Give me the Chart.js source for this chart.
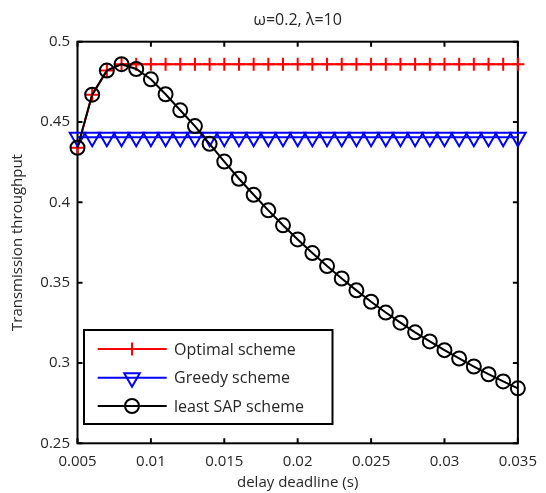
<!DOCTYPE html>
<html>
<head>
<meta charset="utf-8">
<script src="https://cdn.jsdelivr.net/npm/chart.js@4.4.0/dist/chart.umd.min.js"></script>
<style>
html,body{margin:0;padding:0;background:#fff;}
#wrap{width:546px;height:493px;position:relative;}
</style>
</head>
<body>
<div id="wrap"><canvas id="c" width="546" height="493"></canvas></div>
<script>
// ---- data ----
const delays = [0.005,0.006,0.007,0.008,0.009,0.010,0.011,0.012,0.013,0.014,0.015,0.016,0.017,0.018,0.019,0.020,0.021,0.022,0.023,0.024,0.025,0.026,0.027,0.028,0.029,0.030,0.031,0.032,0.033,0.034,0.035];
const optimal = [0.434,0.467,0.482,0.486,0.486,0.486,0.486,0.486,0.486,0.486,0.486,0.486,0.486,0.486,0.486,0.486,0.486,0.486,0.486,0.486,0.486,0.486,0.486,0.486,0.486,0.486,0.486,0.486,0.486,0.486,0.486];
const greedy = [0.4405,0.4405,0.4405,0.4405,0.4405,0.4405,0.4405,0.4405,0.4405,0.4405,0.4405,0.4405,0.4405,0.4405,0.4405,0.4405,0.4405,0.4405,0.4405,0.4405,0.4405,0.4405,0.4405,0.4405,0.4405,0.4405,0.4405,0.4405,0.4405,0.4405,0.4405];
const leastSAP = [0.434,0.467,0.482,0.486,0.483,0.4766,0.4673,0.4573,0.4475,0.4364,0.4254,0.4147,0.4047,0.3950,0.3857,0.3769,0.3684,0.3603,0.3526,0.3452,0.3381,0.3314,0.3251,0.3191,0.3134,0.3080,0.3028,0.2978,0.2930,0.2885,0.2842];
const seriesNames = ['Optimal scheme','Greedy scheme','least SAP scheme'];
const xTicks = [0.005,0.01,0.015,0.02,0.025,0.03,0.035];
const xTickLabels = ['0.005','0.01','0.015','0.02','0.025','0.03','0.035'];
const yTicks = [0.25,0.3,0.35,0.4,0.45,0.5];
const yTickLabels = ['0.25','0.3','0.35','0.4','0.45','0.5'];
const titleText = 'ω=0.2, λ=10';
const xTitle = 'delay deadline (s)';
const yTitle = 'Transmission throughput';

const FONT = '"Open Sans", "DejaVu Sans", sans-serif';
const TXT = '#262626';

function pts(ys){ return delays.map((x,i)=>({x:x,y:ys[i]})); }

const frame = {
  id:'frame',
  beforeDatasetsDraw(chart){
    const {ctx, chartArea:a, scales} = chart;
    ctx.save();
    ctx.strokeStyle = '#000';
    ctx.lineWidth = 2;
    ctx.beginPath();
    const tl = 5;
    xTicks.forEach(v=>{
      const px = scales.x.getPixelForValue(v);
      ctx.moveTo(px, a.bottom); ctx.lineTo(px, a.bottom - tl);
      ctx.moveTo(px, a.top); ctx.lineTo(px, a.top + tl);
    });
    yTicks.forEach(v=>{
      const py = scales.y.getPixelForValue(v);
      ctx.moveTo(a.left, py); ctx.lineTo(a.left + tl, py);
      ctx.moveTo(a.right, py); ctx.lineTo(a.right - tl, py);
    });
    ctx.stroke();
    ctx.lineWidth = 2;
    ctx.strokeRect(a.left, a.top, a.right - a.left, a.bottom - a.top);
    // title
    ctx.fillStyle = TXT;
    ctx.font = '16px ' + FONT;
    ctx.textAlign = 'center';
    ctx.textBaseline = 'middle';
    ctx.fillText(titleText, (a.left + a.right)/2, 20);
    ctx.restore();
  },
  afterDraw(chart){
    const {ctx} = chart;
    ctx.save();
    const bx = 84, by = 330, bw = 248.5, bh = 94;
    ctx.fillStyle = '#fff';
    ctx.fillRect(bx, by, bw, bh);
    ctx.strokeStyle = '#000';
    ctx.lineWidth = 2;
    ctx.strokeRect(bx, by, bw, bh);
    const rows = [349, 377.7, 406];
    chart.data.datasets.forEach((ds, i)=>{
      const y = rows[i];
      ctx.strokeStyle = ds.borderColor;
      ctx.lineWidth = ds.borderWidth;
      ctx.beginPath();
      ctx.moveTo(97.7, y); ctx.lineTo(166.7, y);
      ctx.stroke();
      ctx.strokeStyle = ds.pointBorderColor;
      ctx.fillStyle = 'rgba(0,0,0,0)';
      ctx.lineWidth = ds.pointBorderWidth;
      Chart.helpers.drawPoint(ctx, {pointStyle: ds.pointStyle, radius: ds.pointRadius, rotation: ds.pointRotation || 0, borderWidth: ds.pointBorderWidth}, 132, y);
      ctx.fillStyle = TXT;
      ctx.font = '16px ' + FONT;
      ctx.textAlign = 'left';
      ctx.textBaseline = 'middle';
      ctx.fillText(ds.label, 174, y + 1);
    });
    ctx.restore();
  }
};

new Chart(document.getElementById('c'), {
  type: 'line',
  data: {
    datasets: [
      {label: seriesNames[0], data: pts(optimal), borderColor:'#ff0000', borderWidth:2,
       pointStyle:'cross', pointRadius:6.5, pointBorderColor:'#ff0000', pointBorderWidth:2,
       pointBackgroundColor:'rgba(0,0,0,0)', order:3, clip:false, tension:0},
      {label: seriesNames[1], data: pts(greedy), borderColor:'#0000ff', borderWidth:2,
       pointStyle:'triangle', pointRotation:180, pointRadius:9, pointBorderColor:'#0000ff', pointBorderWidth:2,
       pointBackgroundColor:'rgba(0,0,0,0)', order:2, clip:false, tension:0},
      {label: seriesNames[2], data: pts(leastSAP), borderColor:'#000000', borderWidth:2,
       pointStyle:'circle', pointRadius:7, pointBorderColor:'#000000', pointBorderWidth:2,
       pointBackgroundColor:'rgba(0,0,0,0)', order:1, clip:false, tension:0}
    ]
  },
  options: {
    responsive:false,
    animation:false,
    events:[],
    layout:{padding:{left:0, right:19, top:41.7, bottom:0}},
    plugins:{legend:{display:false}, tooltip:{enabled:false}, title:{display:false}},
    scales:{
      x:{
        type:'linear', min:0.005, max:0.035,
        afterBuildTicks(s){ s.ticks = xTicks.map(v=>({value:v})); },
        afterFit(s){ s.height = 49.7; },
        grid:{display:false, drawTicks:false},
        border:{display:false},
        ticks:{padding:9, color:TXT, font:{family:FONT, size:15}, maxRotation:0, autoSkip:false,
          callback:(v,i)=>xTickLabels[i]},
        title:{display:true, text:xTitle, color:TXT, font:{family:FONT, size:15}, padding:{top:0,bottom:1}}
      },
      y:{
        type:'linear', min:0.25, max:0.5,
        afterBuildTicks(s){ s.ticks = yTicks.map(v=>({value:v})); },
        afterFit(s){ s.width = 77.5; },
        grid:{display:false, drawTicks:false},
        border:{display:false},
        ticks:{padding:7.5, color:TXT, font:{family:FONT, size:15}, autoSkip:false,
          callback:(v,i)=>yTickLabels[i]},
        title:{display:true, text:yTitle, color:TXT, font:{family:FONT, size:15}, padding:{top:9,bottom:0}}
      }
    }
  },
  plugins:[frame]
});
</script>
</body>
</html>
